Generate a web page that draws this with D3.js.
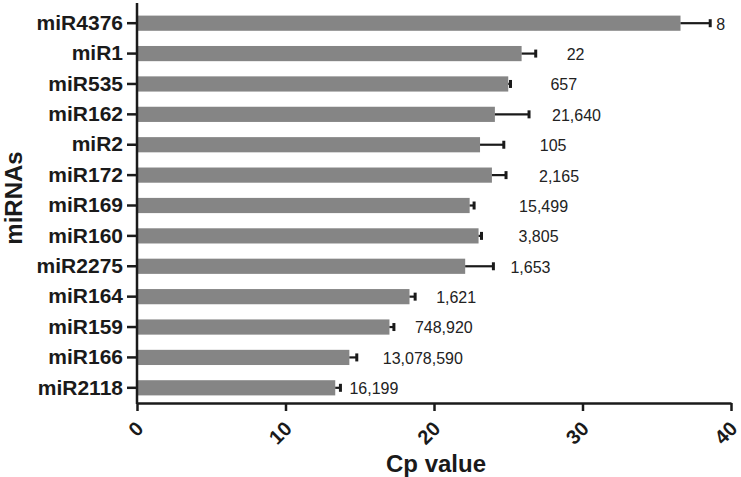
<!doctype html>
<html>
<head>
<meta charset="UTF-8">
<title>miRNA Cp values</title>
<script src="https://d3js.org/d3.v7.min.js"></script>
<style>
  body { margin: 0; background: #fff; }
  text { font-family: Arial, "Liberation Sans", sans-serif; }
</style>
</head>
<body>
<script>
// data
var categories = ["miR4376", "miR1", "miR535", "miR162", "miR2", "miR172", "miR169",
                  "miR160", "miR2275", "miR164", "miR159", "miR166", "miR2118"];
var cpValues = [36.6, 25.9, 25.0, 24.1, 23.1, 23.9, 22.4, 23.0, 22.1, 18.35, 17.0, 14.3, 13.35];
var cpErrors = [2.0, 0.95, 0.15, 2.3, 1.6, 0.95, 0.3, 0.2, 1.9, 0.38, 0.3, 0.5, 0.35];
var readCounts = [8, 22, 657, 21640, 105, 2165, 15499, 3805, 1653, 1621, 748920, 13078590, 16199];
var xTicks = [0, 10, 20, 30, 40];

// gap (px) between error bar end and the count label, as placed in the figure
var labelGap = [6, 31, 40, 23, 36, 33, 45, 37, 17, 21, 21, 26, 9];

var W = 741, H = 477;
var x0 = 137, x1 = 731, yTop = 8, yBot = 403;

var svg = d3.select("body").append("svg").attr("width", W).attr("height", H);

var x = d3.scaleLinear().domain([0, 40]).range([x0, x1]);
var y = d3.scaleBand().domain(categories).range([yTop, yBot])
          .paddingInner(0.5).paddingOuter(0.25);

var rows = categories.map(function(c, i) {
  return {name: c, v: cpValues[i], e: cpErrors[i], n: readCounts[i], gap: labelGap[i]};
});

// bars
svg.selectAll("rect.bar").data(rows).enter().append("rect")
  .attr("class", "bar")
  .attr("x", x(0))
  .attr("y", function(d) { return y(d.name); })
  .attr("width", function(d) { return x(d.v) - x(0); })
  .attr("height", y.bandwidth())
  .attr("fill", "#858585");

// error bars (one-sided, to the right)
var eb = svg.selectAll("g.err").data(rows).enter().append("g").attr("class", "err");
eb.append("line")
  .attr("x1", function(d) { return x(d.v); })
  .attr("x2", function(d) { return x(d.v + d.e); })
  .attr("y1", function(d) { return y(d.name) + y.bandwidth() / 2; })
  .attr("y2", function(d) { return y(d.name) + y.bandwidth() / 2; })
  .attr("stroke", "#1a1a1a").attr("stroke-width", 2.2);
eb.append("line")
  .attr("x1", function(d) { return x(d.v + d.e); })
  .attr("x2", function(d) { return x(d.v + d.e); })
  .attr("y1", function(d) { return y(d.name) + y.bandwidth() / 2 - 4; })
  .attr("y2", function(d) { return y(d.name) + y.bandwidth() / 2 + 4; })
  .attr("stroke", "#1a1a1a").attr("stroke-width", 3);

// count labels
var fmt = d3.format(",");
svg.selectAll("text.count").data(rows).enter().append("text")
  .attr("class", "count")
  .attr("x", function(d) { return x(d.v + d.e) + d.gap; })
  .attr("y", function(d) { return y(d.name) + y.bandwidth() / 2; })
  .attr("dy", "0.4em")
  .attr("font-size", 16)
  .attr("fill", "#222")
  .text(function(d) { return fmt(d.n); });

// x axis
var xAxis = svg.append("g")
  .attr("transform", "translate(0," + yBot + ")")
  .call(d3.axisBottom(x).tickValues(xTicks).tickSize(8).tickSizeOuter(0));
xAxis.select(".domain").attr("stroke", "#1a1a1a").attr("stroke-width", 2.5);
xAxis.selectAll(".tick line").attr("stroke", "#1a1a1a").attr("stroke-width", 2.5);
xAxis.selectAll(".tick text")
  .attr("font-size", 20).attr("font-weight", "bold").attr("fill", "#1a1a1a")
  .attr("font-family", "Arial, 'Liberation Sans', sans-serif")
  .attr("text-anchor", "end")
  .attr("dy", null)
  .attr("y", 0)
  .attr("transform", "translate(7,27) rotate(-45)");

// y axis
var yAxis = svg.append("g")
  .attr("transform", "translate(" + x0 + ",0)")
  .call(d3.axisLeft(y).tickSize(10).tickSizeOuter(0).tickPadding(4));
yAxis.select(".domain").remove();
yAxis.append("line")
  .attr("x1", 0).attr("x2", 0).attr("y1", 3).attr("y2", yBot + 1)
  .attr("stroke", "#1a1a1a").attr("stroke-width", 2.5);
yAxis.selectAll(".tick line").attr("stroke", "#1a1a1a").attr("stroke-width", 2.5);
yAxis.selectAll(".tick text")
  .attr("font-size", 21).attr("font-weight", "bold").attr("fill", "#1a1a1a")
  .attr("font-family", "Arial, 'Liberation Sans', sans-serif");

// axis titles
svg.append("text")
  .attr("x", 436).attr("y", 472)
  .attr("text-anchor", "middle")
  .attr("font-size", 24).attr("font-weight", "bold").attr("fill", "#1a1a1a")
  .text("Cp value");

svg.append("text")
  .attr("transform", "translate(22,198) rotate(-90)")
  .attr("text-anchor", "middle")
  .attr("font-size", 24).attr("font-weight", "bold").attr("fill", "#1a1a1a")
  .text("miRNAs");
</script>
</body>
</html>
